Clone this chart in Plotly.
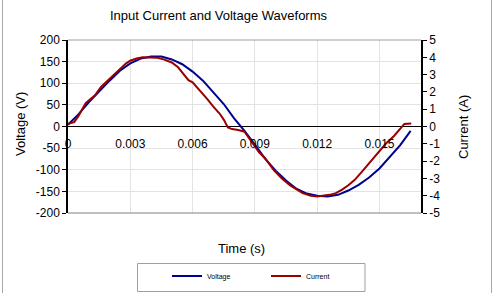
import plotly.graph_objects as go

# Voltage samples (s, V)
t_voltage = [0, 0.0005, 0.001, 0.0015, 0.002, 0.0025, 0.003, 0.0035, 0.004, 0.0045,
             0.005, 0.0055, 0.006, 0.0065, 0.007, 0.0075, 0.008, 0.0085, 0.009, 0.0095,
             0.01, 0.0105, 0.011, 0.0115, 0.012, 0.0125, 0.013, 0.0135, 0.014, 0.0145,
             0.015, 0.0155, 0.016, 0.0165]
voltage = [4, 28, 56, 82, 106, 129, 146, 157, 162, 162,
           155, 144, 127, 106, 80, 52, 19, -10, -42, -75,
           -102, -125, -144, -155, -160, -162, -158, -148, -135, -118,
           -97, -70, -43, -10]

# Current samples (s, A)
t_current = [0, 0.0003, 0.0005, 0.0007, 0.00085, 0.0011, 0.0013, 0.0016, 0.002, 0.0024,
             0.0028, 0.003, 0.0033, 0.0036, 0.004, 0.0043, 0.0046, 0.005, 0.0053, 0.0056,
             0.0058, 0.006, 0.0063, 0.0067, 0.007, 0.0073, 0.0075, 0.0077, 0.0079, 0.0082,
             0.0085, 0.0087, 0.009, 0.0092, 0.0095, 0.0099, 0.0103, 0.0107, 0.0113, 0.0117,
             0.012, 0.0124, 0.0126, 0.0129, 0.0132, 0.0135, 0.0138, 0.0142, 0.0146, 0.015,
             0.0153, 0.0157, 0.0161, 0.0162, 0.01653]
current = [0.15, 0.25, 0.6, 1.0, 1.35, 1.6, 1.8, 2.3, 2.75, 3.15,
           3.65, 3.8, 3.93, 4.0, 4.0, 3.97, 3.88, 3.7, 3.42, 3.0,
           2.68, 2.55, 2.15, 1.6, 1.15, 0.75, 0.4, -0.05, -0.15, -0.2,
           -0.3, -0.65, -1.1, -1.5, -1.85, -2.5, -3.0, -3.4, -3.85, -4.0,
           -4.05, -4.0, -3.95, -3.85, -3.65, -3.4, -3.1, -2.55, -2.0, -1.4,
           -1.0, -0.55, 0.05, 0.15, 0.17]

x_ticks = [0, 0.003, 0.006, 0.009, 0.012, 0.015]
x_tick_labels = ["0", "0.003", "0.006", "0.009", "0.012", "0.015"]
v_ticks = [-200, -150, -100, -50, 0, 50, 100, 150, 200]
v_tick_labels = ["-200", "-150", "-100", "-50", "0", "50", "100", "150", "200"]
i_ticks = [-5, -4, -3, -2, -1, 0, 1, 2, 3, 4, 5]
i_tick_labels = ["-5", "-4", "-3", "-2", "-1", "0", "1", "2", "3", "4", "5"]

FONT = "Liberation Sans, Arial, sans-serif"

fig = go.Figure()
fig.add_trace(go.Scatter(x=t_voltage, y=voltage, name="Voltage", mode="lines",
                         line=dict(color="#00008F", width=2), yaxis="y"))
fig.add_trace(go.Scatter(x=t_current, y=current, name="Current", mode="lines",
                         line=dict(color="#990000", width=2), yaxis="y2"))

L, R, T, B = 68, 72, 40, 80
W, H = 493, 293
pw, ph = W - L - R, H - T - B

def px(xp):
    return (xp - L) / pw

def py(yp):
    return (H - B - yp) / ph

fig.update_layout(
    width=W, height=H,
    margin=dict(l=L, r=R, t=T, b=B, autoexpand=False),
    paper_bgcolor="white", plot_bgcolor="white",
    font=dict(family=FONT, size=11, color="black"),
    showlegend=True,
    legend=dict(orientation="h", x=px(167), y=py(276), xanchor="left", yanchor="middle",
                font=dict(size=7), bgcolor="rgba(0,0,0,0)", borderwidth=0,
                entrywidth=54, entrywidthmode="pixels", itemwidth=30),
    xaxis=dict(range=[0, 0.017], tickvals=x_ticks, ticktext=x_tick_labels,
               showgrid=True, gridcolor="#E3E3E3", gridwidth=1,
               zeroline=False, showline=False, ticks="",
               anchor="free", position=0.5, ticklabelstandoff=8,
               tickfont=dict(size=12)),
    yaxis=dict(range=[-200, 200], tickvals=v_ticks, ticktext=v_tick_labels,
               showgrid=True, gridcolor="#E3E3E3",
               zeroline=True, zerolinecolor="black", zerolinewidth=1,
               showline=True, linecolor="black", linewidth=1.5,
               ticks="outside", ticklen=4, tickcolor="black",
               tickfont=dict(size=12)),
    yaxis2=dict(range=[-5, 5], tickvals=i_ticks, ticktext=i_tick_labels,
                overlaying="y", side="right",
                showgrid=False, zeroline=False,
                showline=True, linecolor="black", linewidth=1.5,
                ticks="outside", ticklen=4, tickcolor="black",
                tickfont=dict(size=12)),
    shapes=[
        dict(type="line", xref="paper", yref="paper", x0=0, x1=1, y0=1, y1=1,
             line=dict(color="#A0A0A0", width=1)),
        dict(type="line", xref="paper", yref="paper", x0=0, x1=1, y0=0, y1=0,
             line=dict(color="#808080", width=1)),
        dict(type="rect", xref="paper", yref="paper", x0=px(137.5), x1=px(365),
             y0=py(291.5), y1=py(263.5), line=dict(color="#A0A0A0", width=1)),
        dict(type="line", xref="paper", yref="paper", x0=px(2.5), x1=px(2.5),
             y0=py(0), y1=py(293), line=dict(color="#A8A8A8", width=1)),
        dict(type="line", xref="paper", yref="paper", x0=px(491.5), x1=px(491.5),
             y0=py(0), y1=py(293), line=dict(color="#A8A8A8", width=1)),
    ],
    annotations=[
        dict(text="Input Current and Voltage Waveforms", xref="paper", yref="paper",
             x=px(218.5), y=py(15), showarrow=False, font=dict(size=13),
             xanchor="center", yanchor="middle"),
        dict(text="Time (s)", xref="paper", yref="paper",
             x=px(241.5), y=py(248), showarrow=False, font=dict(size=13),
             xanchor="center", yanchor="middle"),
        dict(text="Voltage (V)", xref="paper", yref="paper",
             x=px(20), y=py(124), showarrow=False, font=dict(size=13),
             textangle=-90, xanchor="center", yanchor="middle"),
        dict(text="Current (A)", xref="paper", yref="paper",
             x=px(463), y=py(127), showarrow=False, font=dict(size=13),
             textangle=-90, xanchor="center", yanchor="middle"),
    ],
)

fig.write_html("out.html", config={"displayModeBar": False},
               post_script="document.body.style.margin='0';")
